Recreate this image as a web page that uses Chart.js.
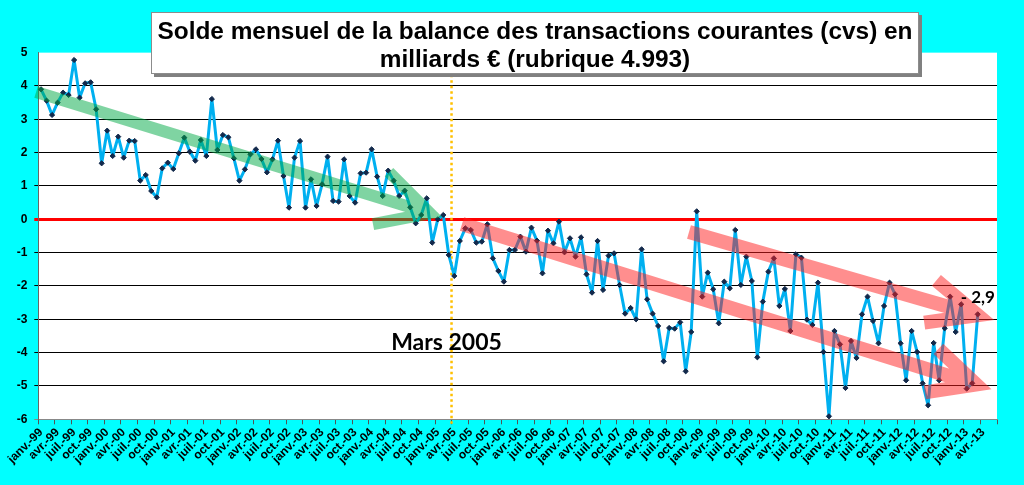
<!DOCTYPE html>
<html lang="fr">
<head>
<meta charset="utf-8">
<title>Solde mensuel de la balance des transactions courantes</title>
<script src="https://cdn.jsdelivr.net/npm/chart.js@4.4.1/dist/chart.umd.min.js"></script>
<style>
  html, body { margin: 0; padding: 0; background: #00ffff; }
  #wrap { width: 1024px; height: 485px; }
</style>
</head>
<body>
<div id="wrap"><canvas id="chart" width="1024" height="485"></canvas></div>
<script>
// categories : un point par mois, de janv.-99 a juin-13
const moisNoms = ['janv.', 'févr.', 'mars', 'avr.', 'mai', 'juin', 'juil.', 'août', 'sept.', 'oct.', 'nov.', 'déc.'];
const annees = ['99', '00', '01', '02', '03', '04', '05', '06', '07', '08', '09', '10', '11', '12', '13'];
const nbMois = 174;

// solde mensuel (milliards d'euros), janv.-99 a mars-13
const solde = [
  3.90, 3.56, 3.13, 3.50, 3.80, 3.73, 4.78, 3.65, 4.08, 4.11, 3.30, 1.68,   // 1999
  2.66, 1.90, 2.48, 1.85, 2.36, 2.35, 1.16, 1.33, 0.85, 0.66, 1.53, 1.70,   // 2000
  1.51, 1.98, 2.45, 2.03, 1.76, 2.38, 1.90, 3.61, 2.08, 2.53, 2.46, 1.83,   // 2001
  1.16, 1.50, 1.95, 2.10, 1.81, 1.41, 1.80, 2.36, 1.30, 0.35, 1.85, 2.35,   // 2002
  0.35, 1.20, 0.40, 1.05, 1.88, 0.55, 0.53, 1.80, 0.70, 0.50, 1.38, 1.40,   // 2003
  2.10, 1.28, 0.70, 1.46, 1.16, 0.70, 0.86, 0.36, -0.12, 0.13, 0.63, -0.70, // 2004
  0.00, 0.13, -1.07, -1.70, -0.65, -0.27, -0.32, -0.70, -0.67, -0.15, -1.17, -1.55, // 2005
  -1.87, -0.92, -0.92, -0.52, -0.97, -0.25, -0.64, -1.62, -0.34, -0.72, -0.07, -0.99, // 2006
  -0.57, -1.12, -0.54, -1.65, -2.20, -0.65, -2.12, -1.09, -1.02, -1.97, -2.83, -2.66, // 2007
  -3.00, -0.90, -2.40, -2.83, -3.20, -4.26, -3.26, -3.28, -3.09, -4.56, -3.38, 0.24,  // 2008
  -2.32, -1.60, -2.10, -3.12, -1.87, -2.07, -0.32, -1.97, -1.12, -1.85, -4.14, -2.47, // 2009
  -1.57, -1.17, -2.60, -2.09, -3.35, -1.05, -1.15, -3.01, -3.17, -1.90, -3.98, -5.91, // 2010
  -3.35, -3.75, -5.06, -3.65, -4.16, -2.85, -2.32, -3.05, -3.72, -2.60, -1.90, -2.25, // 2011
  -3.72, -4.83, -3.35, -3.98, -4.92, -5.58, -3.71, -4.83, -3.27, -2.32, -3.38, -2.55, // 2012
  -5.08, -4.92, -2.85                                                              // 2013
];

// graduations de l'axe des valeurs
const yMin = -6;
const yMax = 5;

// reperes dessines sur le graphique (index du mois, valeur)
const repereMars2005 = 74.5;
const texteMars2005 = 'Mars 2005';
const flecheVerte = [[-0.9, 3.82], [72.8, 0.07]];
const flecheRougeBas = [[76.4, -0.14], [172.5, -5.10]];
const flecheRougeHaut = [[117.6, -0.38], [173.0, -3.02]];
const etiquetteDernier = '- 2,9';

const titre = ['Solde mensuel de la balance des transactions courantes (cvs) en', 'milliards € (rubrique 4.993)'];

const mois = [];
annees.forEach(a => moisNoms.forEach(m => mois.push(m + '-' + a)));
mois.length = nbMois;

function fleche(ctx, x0, y0, x1, y1, couleur, ep, tete, angle) {
  const dir = Math.atan2(y1 - y0, x1 - x0);
  // recule le sommet pour que la pointe exterieure tombe sur (x1, y1)
  const recul = (ep / 2) / Math.sin(angle);
  const sx = x1 - recul * Math.cos(dir);
  const sy = y1 - recul * Math.sin(dir);
  ctx.save();
  ctx.strokeStyle = couleur;
  ctx.lineWidth = ep;
  ctx.lineJoin = 'miter';
  ctx.lineCap = 'butt';
  ctx.beginPath();
  ctx.moveTo(x0, y0);
  ctx.lineTo(sx, sy);
  ctx.moveTo(sx - tete * Math.cos(dir - angle), sy - tete * Math.sin(dir - angle));
  ctx.lineTo(sx, sy);
  ctx.lineTo(sx - tete * Math.cos(dir + angle), sy - tete * Math.sin(dir + angle));
  ctx.stroke();
  ctx.restore();
}

const decor = {
  id: 'decor',
  beforeDraw(chart) {
    const { ctx, chartArea: a } = chart;
    ctx.save();
    ctx.fillStyle = '#00ffff';
    ctx.fillRect(0, 0, chart.width, chart.height);
    ctx.fillStyle = '#ffffff';
    ctx.fillRect(a.left, a.top, a.right - a.left, a.bottom - a.top);
    ctx.restore();
  },
  beforeDatasetsDraw(chart) {
    const { ctx, chartArea: a, scales } = chart;
    const x = scales.x.getPixelForValue(repereMars2005);
    ctx.save();
    ctx.strokeStyle = '#ffc000';
    ctx.lineWidth = 2.5;
    ctx.setLineDash([2.5, 3]);
    ctx.beginPath();
    ctx.moveTo(x, a.top);
    ctx.lineTo(x, a.bottom + 6);
    ctx.stroke();
    ctx.restore();
  },
  afterDatasetsDraw(chart) {
    const { ctx, scales } = chart;
    const px = p => [scales.x.getPixelForValue(p[0]), scales.y.getPixelForValue(p[1])];
    const deg = Math.PI / 180;
    let [a, b] = [px(flecheVerte[0]), px(flecheVerte[1])];
    fleche(ctx, a[0], a[1], b[0], b[1], 'rgba(0, 170, 70, 0.5)', 12, 58, 28 * deg);
    [a, b] = [px(flecheRougeBas[0]), px(flecheRougeBas[1])];
    fleche(ctx, a[0], a[1], b[0], b[1], 'rgba(255, 30, 30, 0.5)', 14, 52, 26 * deg);
    [a, b] = [px(flecheRougeHaut[0]), px(flecheRougeHaut[1])];
    fleche(ctx, a[0], a[1], b[0], b[1], 'rgba(255, 30, 30, 0.5)', 14, 54, 24 * deg);

    ctx.save();
    ctx.fillStyle = '#000000';
    ctx.font = 'bold 23px Lato';
    ctx.textAlign = 'center';
    ctx.textBaseline = 'middle';
    ctx.fillText(texteMars2005, scales.x.getPixelForValue(repereMars2005) - 5, scales.y.getPixelForValue(-3.7));

    const dernier = solde.length - 1;
    ctx.font = 'bold 17px Lato';
    ctx.textAlign = 'left';
    ctx.textBaseline = 'alphabetic';
    ctx.fillText(etiquetteDernier, scales.x.getPixelForValue(dernier) - 17, scales.y.getPixelForValue(solde[dernier]) - 11);
    ctx.restore();
  },
  afterDraw(chart) {
    const ctx = chart.ctx;
    ctx.save();
    ctx.fillStyle = '#808080';
    ctx.fillRect(154, 15, 768, 62);
    ctx.fillStyle = '#ffffff';
    ctx.fillRect(151, 12, 768, 62);
    ctx.strokeStyle = '#8c8c8c';
    ctx.lineWidth = 1;
    ctx.strokeRect(151.5, 12.5, 767, 61);
    ctx.fillStyle = '#000000';
    // taille ajustee pour que la premiere ligne occupe la largeur du cadre
    ctx.font = 'bold 20px "Liberation Sans"';
    const taille = Math.min(26, 20 * 756 / ctx.measureText(titre[0]).width);
    ctx.font = 'bold ' + taille.toFixed(1) + 'px "Liberation Sans"';
    ctx.textAlign = 'center';
    ctx.textBaseline = 'alphabetic';
    ctx.fillText(titre[0], 535, 39);
    ctx.fillText(titre[1], 535, 67);
    ctx.restore();
  }
};

const ctx = document.getElementById('chart').getContext('2d');
new Chart(ctx, {
  type: 'line',
  data: {
    labels: mois,
    datasets: [{
      label: 'Solde mensuel',
      data: solde,
      borderColor: '#00b0f0',
      borderWidth: 3,
      borderJoinStyle: 'round',
      tension: 0,
      pointStyle: 'rectRot',
      pointRadius: 2.6,
      pointBackgroundColor: '#13294b',
      pointBorderColor: '#13294b',
      pointBorderWidth: 1
    }]
  },
  options: {
    responsive: false,
    devicePixelRatio: 1,
    animation: false,
    layout: { padding: { top: 52.65, right: 27, bottom: 0, left: 0 } },
    plugins: {
      legend: { display: false },
      tooltip: { enabled: false }
    },
    scales: {
      x: {
        type: 'category',
        offset: true,
        grid: {
          offset: true,
          drawOnChartArea: false,
          drawTicks: true,
          tickLength: 5,
          color: c => (c.index === undefined || c.index % 3 === 0) ? '#555555' : 'rgba(0,0,0,0)'
        },
        border: { display: true, color: '#888888', width: 1 },
        ticks: {
          autoSkip: false,
          maxRotation: 45,
          minRotation: 45,
          padding: 1,
          color: '#000000',
          font: { family: 'Liberation Sans', size: 12, weight: 'bold' },
          callback: (v, i) => (i % 3 === 0 ? mois[i] : '')
        },
        afterFit: s => { s.height = 65.7; }
      },
      y: {
        min: yMin,
        max: yMax,
        grid: {
          color: c => c.tick.value === 0 ? '#ff0000' : (c.tick.value === yMax ? 'rgba(0,0,0,0)' : (c.tick.value === yMin ? '#888888' : '#000000')),
          lineWidth: c => c.tick.value === 0 ? 3 : 1,
          tickLength: 4
        },
        border: { display: true, color: '#666666', width: 1 },
        ticks: {
          stepSize: 1,
          padding: 7,
          color: '#000000',
          font: { family: 'Liberation Sans', size: 12, weight: 'bold' }
        },
        afterFit: s => { s.width = 38.3; }
      }
    }
  },
  plugins: [decor]
});
</script>
</body>
</html>
